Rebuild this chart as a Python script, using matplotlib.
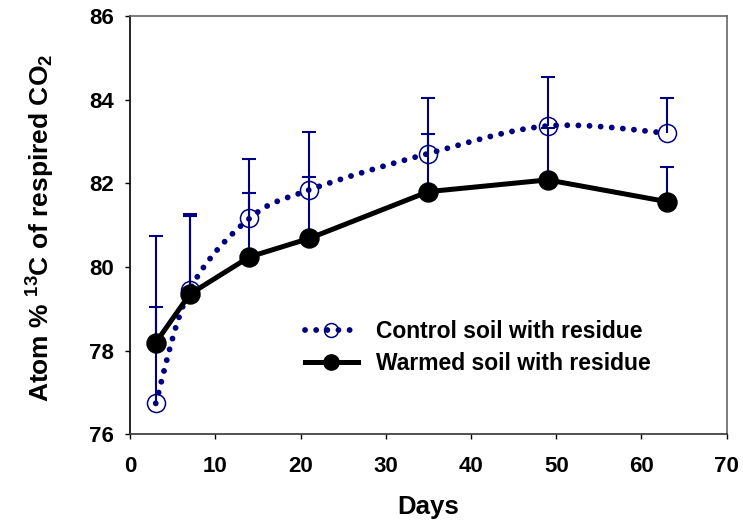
import numpy as np
import matplotlib
matplotlib.use("Agg")
import matplotlib.pyplot as plt
from matplotlib.path import Path
from matplotlib.patches import PathPatch
from matplotlib.lines import Line2D

# data
days = [3, 7, 14, 21, 35, 49, 63]
control = [76.74, 79.45, 81.16, 81.84, 82.71, 83.37, 83.20]
control_err = [4.00, 1.81, 1.42, 1.39, 1.32, 1.17, 0.84]
warmed = [78.19, 79.35, 80.24, 80.68, 81.80, 82.08, 81.56]
warmed_err = [0.86, 1.86, 1.52, 1.47, 1.37, 1.24, 0.84]

NAVY = "#000080"

plt.rcParams["font.family"] = ["Liberation Sans", "DejaVu Sans"]
plt.rcParams["font.weight"] = "bold"
plt.rcParams["mathtext.fontset"] = "custom"
plt.rcParams["mathtext.rm"] = "Liberation Sans:bold"
plt.rcParams["mathtext.default"] = "rm"


def smooth_path(x, y):
    # excel-like smoothed line: catmull-rom segments as cubic beziers
    x = np.asarray(x, float)
    y = np.asarray(y, float)
    pts = np.column_stack([x, y])
    verts = [pts[0]]
    codes = [Path.MOVETO]
    n = len(pts)
    for i in range(n - 1):
        p0 = pts[max(i - 1, 0)]
        p1 = pts[i]
        p2 = pts[i + 1]
        p3 = pts[min(i + 2, n - 1)]
        c1 = p1 + (p2 - p0) / 6.0
        c2 = p2 - (p3 - p1) / 6.0
        verts += [c1, c2, p2]
        codes += [Path.CURVE4] * 3
    return Path(verts, codes)


fig = plt.figure(figsize=(7.43, 5.29), dpi=100)
ax = fig.add_axes([0.1752, 0.179, 0.8028, 0.791])

dots = (0, (0.01, 1.9))

# upper error bars only
for vals, errs in [(control, control_err), (warmed, warmed_err)]:
    vals = np.asarray(vals)
    top = vals + np.asarray(errs)
    ax.vlines(days, vals, top, color=NAVY, lw=1.5, zorder=1)
    ax.plot(days, top, ls="none", marker="_", ms=9.4, mew=1.5,
            color=NAVY, zorder=1)

# control: smoothed dotted line + open circles
patch = PathPatch(smooth_path(days, control), fill=False, edgecolor=NAVY,
                  lw=4.2, linestyle=dots, capstyle="round", zorder=2)
ax.add_patch(patch)
ax.plot(days, control, ls="none", marker="o", ms=13, mfc="none",
        mec=NAVY, mew=1.1, zorder=2.5)

# warmed: solid black line + filled circles
ax.plot(days, warmed, color="black", lw=3.6, marker="o", ms=13.7,
        zorder=3)

handles = [
    Line2D([], [], color=NAVY, lw=4.2, linestyle=dots,
           dash_capstyle="round", marker="o", ms=10, mfc="none",
           mec=NAVY, mew=1.1),
    Line2D([], [], color="black", lw=3.6, marker="o", ms=11),
]
ax.legend(handles, ["Control soil with residue", "Warmed soil with residue"],
          loc="upper left", bbox_to_anchor=(0.293, 0.273), frameon=False,
          borderpad=0, borderaxespad=0, handlelength=2.3,
          handletextpad=0.8, labelspacing=0.4,
          prop={"size": 16.5, "weight": "bold"})

ax.set_xlim(0, 70)
ax.set_ylim(76, 86)
ax.set_xticks(range(0, 71, 10))
ax.set_yticks(range(76, 87, 2))
ax.tick_params(axis="x", direction="out", length=3.6, width=1,
               labelsize=16, pad=12)
ax.tick_params(axis="y", direction="out", length=3.6, width=1,
               labelsize=16, pad=8)

ax.spines["left"].set_color("black")
ax.spines["bottom"].set_color("#333333")
ax.spines["top"].set_color("#666666")
ax.spines["right"].set_color("#666666")
for s in ax.spines.values():
    s.set_linewidth(1.2)

ax.set_xlabel("Days", fontsize=18.5, fontweight="bold")
ax.set_ylabel("Atom % $^{13}$C of respired CO$_{2}$", fontsize=19,
              fontweight="bold")
ax.xaxis.set_label_coords(0.50, -0.145)
ax.yaxis.set_label_coords(-0.123, 0.493)

fig.savefig("out.png", dpi=100)
